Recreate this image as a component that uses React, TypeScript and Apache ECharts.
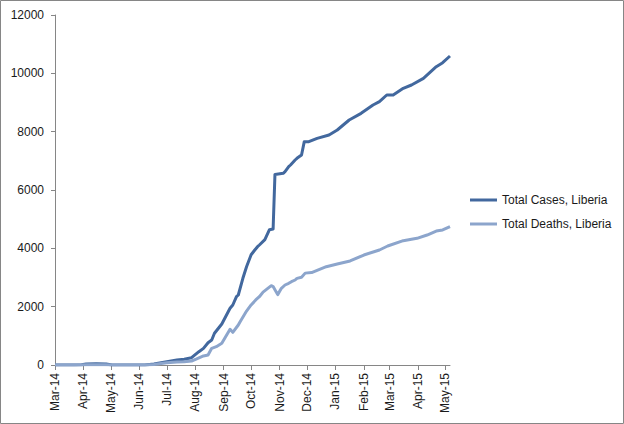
import React, { useEffect, useRef } from "react";
import * as echarts from "echarts";

const axisStart = "2014-03-01";
const axisEnd = "2015-05-06";

const caseDates = ["2014-03-01","2014-03-22","2014-03-30","2014-04-04","2014-04-15","2014-04-26","2014-05-02","2014-06-07","2014-06-17","2014-07-01","2014-07-12","2014-07-20","2014-07-28","2014-08-05","2014-08-10","2014-08-15","2014-08-19","2014-08-22","2014-08-30","2014-09-08","2014-09-11","2014-09-15","2014-09-17","2014-09-22","2014-09-26","2014-10-01","2014-10-05","2014-10-08","2014-10-10","2014-10-16","2014-10-21","2014-10-25","2014-10-27","2014-11-05","2014-11-07","2014-11-11","2014-11-13","2014-11-18","2014-11-20","2014-11-25","2014-11-28","2014-12-03","2014-12-12","2014-12-25","2015-01-03","2015-01-16","2015-01-29","2015-02-11","2015-02-18","2015-02-26","2015-03-05","2015-03-16","2015-03-25","2015-04-07","2015-04-21","2015-04-28","2015-05-06"];
const caseValues = [0,0,8,35,40,35,0,0,33,115,170,200,250,456,570,765,857,1087,1406,1944,2057,2343,2400,2973,3371,3780,3943,4057,4114,4300,4640,4665,6535,6571,6628,6800,6857,7029,7086,7200,7657,7657,7771,7886,8057,8400,8629,8914,9029,9257,9257,9486,9600,9829,10229,10366,10594];

const deathDates = ["2014-03-01","2014-03-25","2014-04-05","2014-04-25","2014-05-02","2014-06-07","2014-06-17","2014-07-01","2014-07-12","2014-07-20","2014-07-28","2014-08-02","2014-08-10","2014-08-15","2014-08-19","2014-08-24","2014-08-30","2014-09-08","2014-09-11","2014-09-17","2014-09-19","2014-09-26","2014-10-01","2014-10-06","2014-10-10","2014-10-14","2014-10-23","2014-10-25","2014-10-30","2014-11-03","2014-11-07","2014-11-11","2014-11-14","2014-11-18","2014-11-20","2014-11-25","2014-11-29","2014-12-06","2014-12-22","2015-01-03","2015-01-17","2015-02-01","2015-02-18","2015-02-27","2015-03-16","2015-03-31","2015-04-11","2015-04-21","2015-04-28","2015-05-06"];
const deathValues = [0,0,10,10,0,0,20,75,100,115,137,200,309,343,572,628,744,1224,1120,1372,1486,1850,2060,2229,2342,2500,2720,2690,2413,2629,2743,2800,2857,2914,2971,3006,3150,3170,3371,3463,3566,3771,3943,4080,4263,4343,4457,4594,4629,4743];

const seriesNames = ["Total Cases, Liberia", "Total Deaths, Liberia"];
const monthNames = ["Jan","Feb","Mar","Apr","May","Jun","Jul","Aug","Sep","Oct","Nov","Dec"];
const yTicks = { min: 0, max: 12000, interval: 2000 };

const DAY = 86400000;
const toUTC = (s: string) => {
  const [y, m, d] = s.split("-").map(Number);
  return Date.UTC(y, m - 1, d);
};
const dayIndex = (s: string) => Math.round((toUTC(s) - toUTC(axisStart)) / DAY);

function buildCategories(): string[] {
  const out: string[] = [];
  const n = dayIndex(axisEnd);
  for (let i = 0; i <= n; i++) {
    const dt = new Date(toUTC(axisStart) + i * DAY);
    const y = dt.getUTCFullYear();
    const m = String(dt.getUTCMonth() + 1).padStart(2, "0");
    const d = String(dt.getUTCDate()).padStart(2, "0");
    out.push(`${y}-${m}-${d}`);
  }
  return out;
}

const isMonthStart = (_i: number, v: string) => v.endsWith("-01");
const fmtMonth = (v: string) => {
  const [y, m] = v.split("-");
  return `${monthNames[Number(m) - 1]}-${y.slice(2)}`;
};

export default function App() {
  const ref = useRef<HTMLDivElement>(null);
  useEffect(() => {
    document.body.style.margin = "0";
    if (!ref.current) return;
    const chart = echarts.init(ref.current, undefined, { renderer: "svg" });
    const categories = buildCategories();
    const font = "Liberation Sans";
    chart.setOption({
      animation: false,
      backgroundColor: "#ffffff",
      textStyle: { fontFamily: font },
      grid: { left: 55, right: 174, top: 15, bottom: 59, containLabel: false },
      xAxis: {
        type: "category",
        data: categories,
        boundaryGap: false,
        axisLine: { lineStyle: { color: "#868686", width: 1 } },
        axisTick: { show: true, interval: isMonthStart, length: 5, lineStyle: { color: "#868686" } },
        axisLabel: {
          interval: isMonthStart,
          rotate: 90,
          margin: 8,
          formatter: fmtMonth,
          color: "#1a1a1a",
          fontSize: 12,
          fontFamily: font,
        },
        splitLine: { show: false },
      },
      yAxis: {
        type: "value",
        min: yTicks.min,
        max: yTicks.max,
        interval: yTicks.interval,
        axisLine: { show: true, lineStyle: { color: "#868686", width: 1 } },
        axisTick: { show: true, length: 4, lineStyle: { color: "#868686" } },
        axisLabel: { margin: 11, color: "#1a1a1a", fontSize: 12, fontFamily: font, formatter: (v: number) => String(v) },
        splitLine: { show: false },
      },
      legend: {
        orient: "vertical",
        left: 470,
        top: 193,
        padding: 0,
        itemWidth: 27,
        itemHeight: 3,
        itemGap: 10,
        icon: "rect",
        textStyle: { fontSize: 12, fontFamily: font, color: "#1a1a1a", lineHeight: 14 },
        data: seriesNames,
      },
      series: [
        {
          name: seriesNames[0],
          type: "line",
          showSymbol: false,
          connectNulls: true,
          color: "#42689e",
          lineStyle: { width: 3, color: "#42689e", join: "round" },
          data: caseDates.map((d, i) => [dayIndex(d), caseValues[i]]),
        },
        {
          name: seriesNames[1],
          type: "line",
          showSymbol: false,
          connectNulls: true,
          color: "#8ca5cc",
          lineStyle: { width: 3, color: "#8ca5cc", join: "round" },
          data: deathDates.map((d, i) => [dayIndex(d), deathValues[i]]),
        },
      ],
      graphic: [
        {
          type: "rect",
          shape: { x: 0.5, y: 0.5, width: 623, height: 423 },
          style: { fill: "none", stroke: "#868686", lineWidth: 1 },
          silent: true,
        },
      ],
    });
    return () => chart.dispose();
  }, []);
  return <div ref={ref} style={{ width: 624, height: 424 }} />;
}
